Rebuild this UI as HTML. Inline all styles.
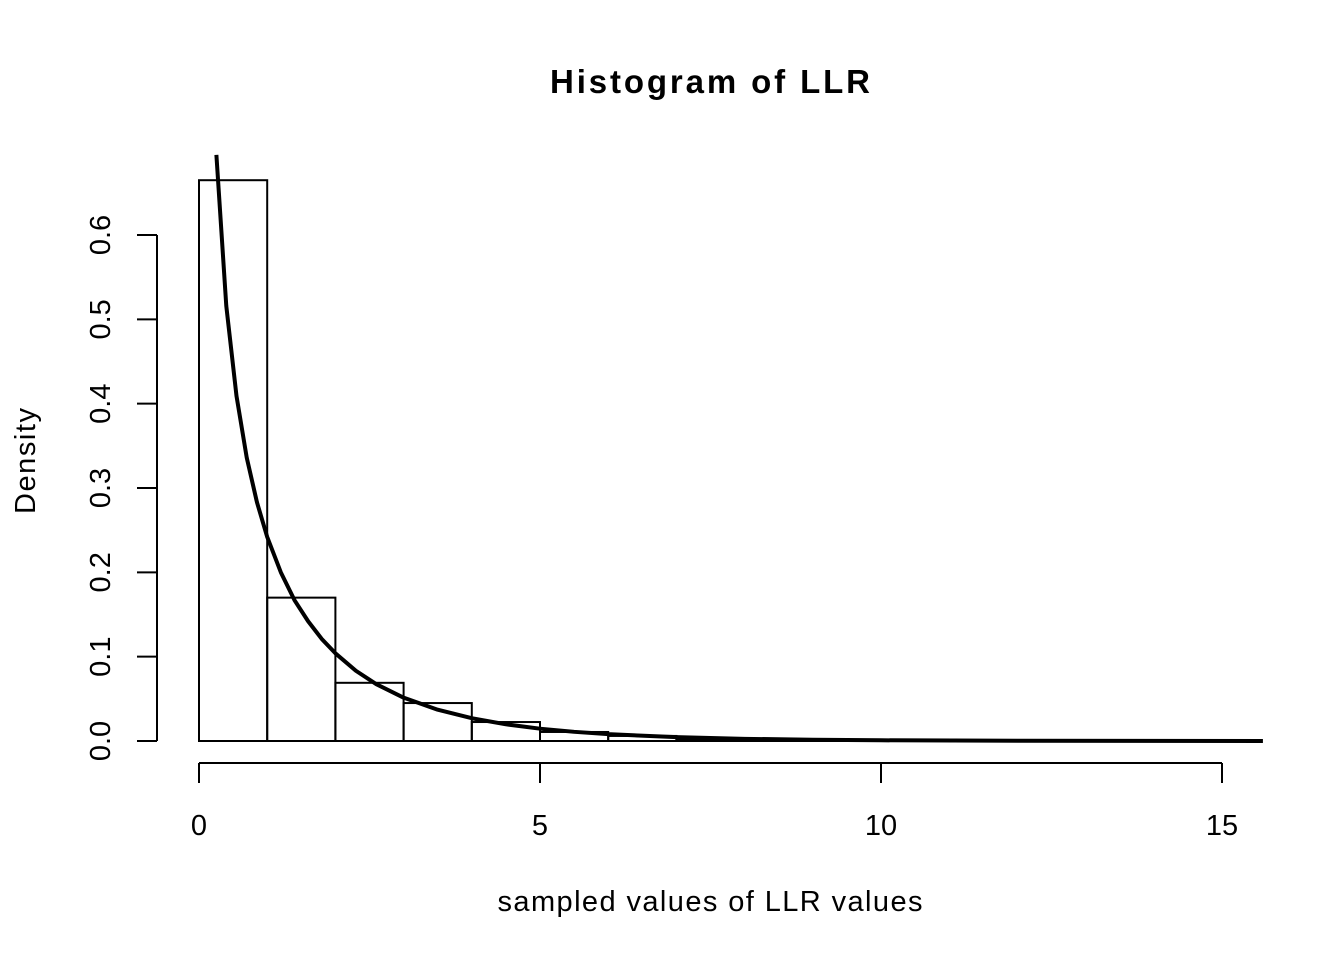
<!DOCTYPE html>
<html><head><meta charset="utf-8"><style>
body{margin:0;background:#fff}
svg{display:block;font-family:"Liberation Sans",Arial,sans-serif}
</style></head><body>
<svg id="chart" width="1344" height="960">
<text x="710" y="93" text-anchor="middle" font-size="33" font-weight="bold" textLength="320">Histogram of LLR</text>
<text x="710" y="911" text-anchor="middle" font-size="29" textLength="425">sampled values of LLR values</text>
<text transform="translate(35,461) rotate(-90)" text-anchor="middle" font-size="29" textLength="106">Density</text>
<g id="bars"></g>
<g id="curve"></g>
<g id="xaxis"></g>
<g id="yaxis"></g>
</svg>
<script>
const binStarts=[0,1,2,3,4,5,6,7,8,9];
const densities=[0.665,0.170,0.069,0.045,0.0225,0.0107,0.006,0.002,0.001,0.0005];
const curveX=[0.255,0.4,0.55,0.7,0.85,1,1.2,1.4,1.6,1.8,2,2.3,2.6,3,3.5,4,4.5,5,5.5,6,7,8,9,10,12,15.6];
const curveY=[0.695,0.516,0.409,0.336,0.283,0.242,0.200,0.167,0.142,0.121,0.104,0.0833,0.0674,0.0514,0.0371,0.0270,0.0198,0.0146,0.0109,0.0081,0.00455,0.00258,0.00148,0.00085,0.00029,0.00004];
const xTicks=[0,5,10,15];
const yTicks=[0,0.1,0.2,0.3,0.4,0.5,0.6];
const yTickLabels=["0.0","0.1","0.2","0.3","0.4","0.5","0.6"];
const NS="http://www.w3.org/2000/svg";
const sx=v=>199+v*68.2;
const sy=v=>741-v*843.3;
function mk(tag,attrs,parent){const e=document.createElementNS(NS,tag);for(const k in attrs)e.setAttribute(k,attrs[k]);parent.appendChild(e);return e;}
const gb=document.getElementById('bars');
binStarts.forEach((b,i)=>{
 const r=mk('rect',{x:sx(b),y:sy(densities[i]),width:sx(b+1)-sx(b),height:sy(0)-sy(densities[i]),fill:'none',stroke:'#000','stroke-width':2},gb);
 
 
});
const gc=document.getElementById('curve');
const p=mk('polyline',{points:curveX.map((x,i)=>sx(x)+','+sy(curveY[i])).join(' '),fill:'none',stroke:'#000','stroke-width':4,'stroke-linejoin':'round'},gc);


const gx=document.getElementById('xaxis');
const xl=mk('line',{x1:sx(xTicks[0]),x2:sx(xTicks[xTicks.length-1]),y1:763,y2:763,stroke:'#000','stroke-width':2},gx);


xTicks.forEach(t=>{
 mk('line',{x1:sx(t),x2:sx(t),y1:763,y2:783,stroke:'#000','stroke-width':2},gx);
 const tx=mk('text',{x:sx(t),y:835,'text-anchor':'middle','font-size':29},gx);
 tx.textContent=t;
 
 
});
const gy=document.getElementById('yaxis');
const yl=mk('line',{x1:157,x2:157,y1:sy(yTicks[0]),y2:sy(yTicks[yTicks.length-1]),stroke:'#000','stroke-width':2},gy);


yTicks.forEach((t,i)=>{
 mk('line',{x1:137,x2:157,y1:sy(t),y2:sy(t),stroke:'#000','stroke-width':2},gy);
 const tx=mk('text',{transform:`translate(110,${sy(t)}) rotate(-90)`,'text-anchor':'middle','font-size':29},gy);
 tx.textContent=yTickLabels[i];
 
 
});
</script>
</body></html>
